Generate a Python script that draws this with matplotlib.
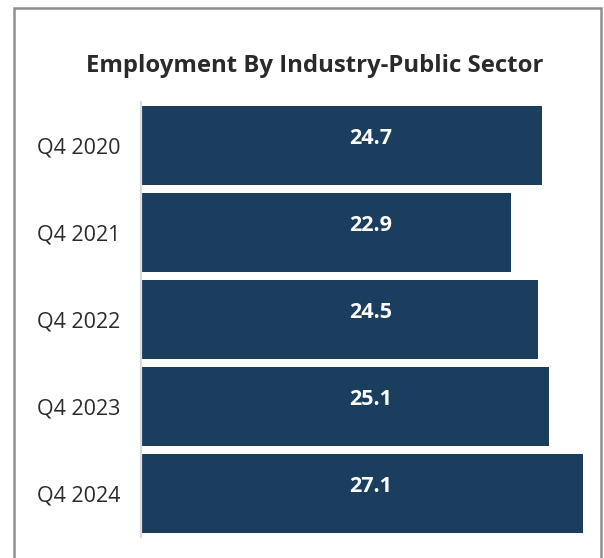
import matplotlib
matplotlib.use("Agg")
import matplotlib.pyplot as plt
from matplotlib.patches import Rectangle
from matplotlib.transforms import blended_transform_factory

categories = ["Q4 2020", "Q4 2021", "Q4 2022", "Q4 2023", "Q4 2024"]
values = [24.7, 22.9, 24.5, 25.1, 27.1]
title = "Employment By Industry-Public Sector"

BAR = "#1b3e5f"
FONT = "Open Sans"

W, H = 604, 558
fig = plt.figure(figsize=(W / 100, H / 100), dpi=100)

# outer border (clipped at the bottom)
fig.patches.append(Rectangle((13.5 / W, -0.05), (600.5 - 13.5) / W, (H - 8) / H + 0.05,
                             transform=fig.transFigure, fill=False,
                             edgecolor="#8f8f8f", linewidth=1.8))

ax = fig.add_axes([141 / W, (H - 537) / H, 460 / W, 435.4 / H])
ypos = list(range(len(categories)))
ax.barh(ypos, values, height=0.907, color=BAR)
ax.set_ylim(4.5, -0.5)
ax.set_xlim(1.31, 28.15)

ax.set_yticks(ypos)
ax.set_yticklabels(categories, fontsize=15.5, color="#2b2b2b", family=FONT)
ax.tick_params(axis="y", length=0, pad=15)
ax.set_xticks([])
for s in ["top", "right", "bottom"]:
    ax.spines[s].set_visible(False)
ax.spines["left"].set_color("#dcdcdc")
ax.spines["left"].set_linewidth(1.6)

trans = blended_transform_factory(ax.transAxes, ax.transData)
for y, v in zip(ypos, values):
    ax.text(0.5, y - 0.08, f"{v:.1f}", transform=trans,
            ha="center", va="center", color="white", fontsize=15.5,
            fontweight="bold", family=FONT)

fig.text(315 / W, (H - 72) / H, title, ha="center", va="baseline",
         fontsize=17.2, fontweight="bold", color="#2a2a2a", family=FONT)

fig.savefig("out.png", dpi=100)
